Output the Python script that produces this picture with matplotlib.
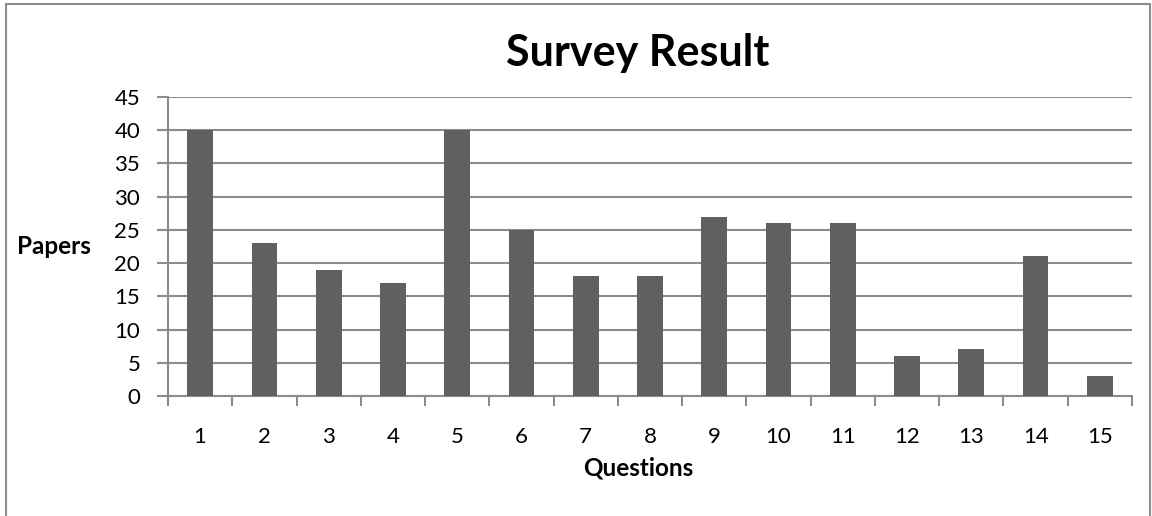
import numpy as np
import matplotlib.pyplot as plt
from matplotlib.patches import Rectangle

# survey counts per question
questions = [str(i) for i in range(1, 16)]
papers = [40, 23, 19, 17, 40, 25, 18, 18, 27, 26, 26, 6, 7, 21, 3]
yticks = [0, 5, 10, 15, 20, 25, 30, 35, 40, 45]

plt.rcParams['font.family'] = ['Lato', 'DejaVu Sans']

fig = plt.figure(figsize=(11.52, 5.16), dpi=100)
ax = fig.add_axes([168/1152, 1 - 396/516, (1132 - 168)/1152, (396 - 97)/516])

x = np.arange(1, len(papers) + 1)
ax.bar(x, papers, width=0.4, color='#606060', zorder=3)

ax.set_xlim(0.5, len(papers) + 0.5)
ax.set_ylim(0, 45)
ax.set_yticks(yticks)
ax.yaxis.grid(True, color='#8c8c8c', lw=1.5, zorder=0)

# labels under the bars, tick marks between them
ax.set_xticks(x)
ax.set_xticklabels(questions)
ax.set_xticks(np.arange(0.5, len(papers) + 1), minor=True)
ax.tick_params(axis='x', which='major', length=0, pad=22, labelsize=16)
ax.tick_params(axis='x', which='minor', length=7, width=1.5, color='#8c8c8c', direction='out')
ax.tick_params(axis='y', length=8, width=1.5, color='#8c8c8c', direction='out', labelsize=16, pad=12)

for s in ['top', 'right']:
    ax.spines[s].set_visible(False)
for s in ['left', 'bottom']:
    ax.spines[s].set_color('#8c8c8c')
    ax.spines[s].set_linewidth(1.5)

ax.set_title('Survey Result', fontsize=31, fontweight='bold', pad=22, x=0.4876)
ax.set_xlabel('Questions', fontsize=17.5, fontweight='bold', labelpad=7)
ax.xaxis.label.set_x(0.4876)
ax.set_ylabel('Papers', fontsize=17.5, fontweight='bold', rotation=0, va='center', ha='center')
ax.yaxis.set_label_coords(-0.118, 0.5)

# chart area border
fig.patches.append(Rectangle((6/1152, -0.05), (1150 - 6)/1152, 1.05 - 4/516,
                             transform=fig.transFigure, fill=False,
                             edgecolor='#8c8c8c', lw=1.5))

fig.savefig('out.png', dpi=100)
